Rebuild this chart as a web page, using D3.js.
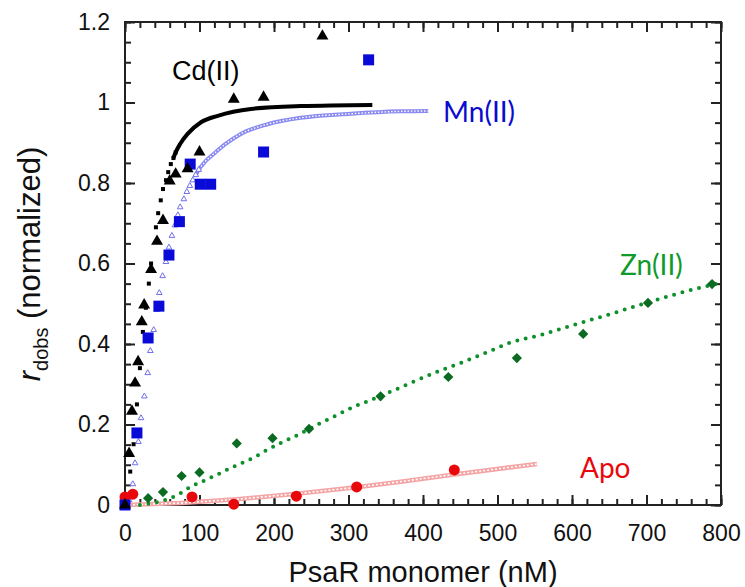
<!DOCTYPE html>
<html>
<head>
<meta charset="utf-8">
<script src="https://cdn.jsdelivr.net/npm/d3@7"></script>
<style>
  body { margin: 0; background: #fff; }
  text { font-family: "Liberation Sans", Arial, sans-serif; }
  .axis path { display: none; }
  .axis line { stroke: #222; stroke-width: 2; }
  .axis text { font-size: 23px; fill: #111; }
</style>
</head>
<body>
<script>
var cdX = [0, 5.5, 9.3, 13.5, 17.6, 22.5, 25.7, 35, 43, 51, 60, 68, 84, 100, 146, 186, 265];
var cdY = [0, 0.128, 0.233, 0.303, 0.356, 0.455, 0.497, 0.585, 0.655, 0.707, 0.805, 0.822, 0.835, 0.877, 1.008, 1.013, 1.165];

var mnX = [0, 16, 31, 45.5, 59, 73, 87.5, 101, 115, 186, 327];
var mnY = [0, 0.179, 0.415, 0.494, 0.621, 0.704, 0.847, 0.797, 0.797, 0.877, 1.106];

var znX = [0, 31, 51, 76, 100, 150, 198, 247, 343, 434, 526, 615, 702, 788];
var znY = [0, 0.017, 0.032, 0.072, 0.081, 0.153, 0.166, 0.189, 0.27, 0.318, 0.365, 0.425, 0.502, 0.549];

var apoX = [0, 10.5, 90, 146, 230, 311, 442];
var apoY = [0.02, 0.027, 0.02, 0.002, 0.022, 0.045, 0.087];

// fitted curves
var cdFitX = [0, 4, 7, 11.5, 16, 20, 24, 28, 32, 35, 41.5, 44.5, 48, 51, 55, 58, 61.5, 65, 68, 74, 84, 102, 124.5, 169, 236, 332];
var cdFitY = [0, 0.025, 0.083, 0.151, 0.25, 0.34, 0.43, 0.49, 0.55, 0.6, 0.69, 0.725, 0.757, 0.785, 0.807, 0.827, 0.847, 0.862, 0.876, 0.897, 0.922, 0.951, 0.967, 0.984, 0.991, 0.994];

var mnFitX = [5.5, 10.5, 13.5, 18, 21.5, 26, 30.5, 34, 38.5, 42.5, 46, 50.5, 55, 59, 63, 67, 71, 74, 79, 83, 87, 91, 95, 99, 104, 108, 115, 122, 135, 155.5, 191.5, 236, 303, 370, 407];
var mnFitY = [0.012, 0.052, 0.104, 0.157, 0.216, 0.27, 0.328, 0.383, 0.435, 0.485, 0.527, 0.569, 0.604, 0.64, 0.669, 0.695, 0.72, 0.74, 0.76, 0.778, 0.793, 0.807, 0.82, 0.833, 0.845, 0.854, 0.866, 0.877, 0.897, 0.922, 0.946, 0.962, 0.972, 0.978, 0.979];

var znFitX = [20, 32, 46, 61, 75, 88, 102, 122, 142, 154, 175, 186, 209, 232, 263, 285, 307, 330, 361, 383, 426, 449, 493, 515, 557, 602, 647, 691, 736, 781, 800];
var znFitY = [0, 0.003, 0.008, 0.017, 0.03, 0.045, 0.057, 0.074, 0.092, 0.102, 0.12, 0.132, 0.154, 0.174, 0.204, 0.224, 0.244, 0.261, 0.285, 0.303, 0.336, 0.352, 0.385, 0.402, 0.422, 0.447, 0.472, 0.497, 0.522, 0.544, 0.552];

var apoFitX = [0, 75, 150, 230, 311, 370, 442, 553];
var apoFitY = [0, 0.005, 0.014, 0.028, 0.044, 0.058, 0.076, 0.102];

var xTicks = [0, 100, 200, 300, 400, 500, 600, 700, 800];
var yTicks = [0, 0.2, 0.4, 0.6, 0.8, 1, 1.2];

var width = 745, height = 587;
var margin = {top: 22, right: 24, bottom: 82, left: 125};
var w = width - margin.left - margin.right,
    h = height - margin.top - margin.bottom;

var svg = d3.select("body").append("svg")
    .attr("width", width)
    .attr("height", height);

var g = svg.append("g")
    .attr("transform", "translate(" + margin.left + "," + margin.top + ")");

var x = d3.scaleLinear().domain([0, 800]).range([0, w]);
var y = d3.scaleLinear().domain([0, 1.2]).range([h, 0]);

function pts(xa, ya){
    return xa.map(function(d, i){ return [d, ya[i]]; });
}

//minor ticks on all four sides
var xMinor = d3.range(0, 801, 20), yMinor = d3.range(0, 1.2001, 0.05);
g.append("g").attr("class", "axis").attr("transform", "translate(0," + h + ")")
    .call(d3.axisBottom(x).tickValues(xMinor).tickSize(-6).tickSizeOuter(0).tickFormat(""));
g.append("g").attr("class", "axis")
    .call(d3.axisTop(x).tickValues(xMinor).tickSize(-6).tickSizeOuter(0).tickFormat(""));
g.append("g").attr("class", "axis")
    .call(d3.axisLeft(y).tickValues(yMinor).tickSize(-6).tickSizeOuter(0).tickFormat(""));
g.append("g").attr("class", "axis").attr("transform", "translate(" + w + ",0)")
    .call(d3.axisRight(y).tickValues(yMinor).tickSize(-6).tickSizeOuter(0).tickFormat(""));

//major ticks + labels
g.append("g").attr("class", "axis").attr("transform", "translate(0," + h + ")")
    .call(d3.axisBottom(x).tickValues(xTicks).tickSize(-10).tickSizeOuter(0).tickPadding(20).tickFormat(d3.format("d")));
g.append("g").attr("class", "axis")
    .call(d3.axisTop(x).tickValues(xTicks).tickSize(-10).tickSizeOuter(0).tickFormat(""));
g.append("g").attr("class", "axis")
    .call(d3.axisLeft(y).tickValues(yTicks).tickSize(-10).tickSizeOuter(0).tickPadding(15).tickFormat(function(d){ return d3.format("")(+d.toFixed(1)); }));
g.append("g").attr("class", "axis").attr("transform", "translate(" + w + ",0)")
    .call(d3.axisRight(y).tickValues(yTicks).tickSize(-10).tickSizeOuter(0).tickFormat(""));

//frame
g.append("rect")
    .attr("width", w).attr("height", h)
    .attr("fill", "none").attr("stroke", "#222").attr("stroke-width", 2);

var line = d3.line().x(function(d){ return x(d[0]); }).y(function(d){ return y(d[1]); });

// Apo fit: chain of small pink open circles
var apoFit = pts(apoFitX, apoFitY);
g.append("path").datum(apoFit).attr("d", line)
    .attr("fill", "none").attr("stroke", "#f4a4a4").attr("stroke-width", 4.5);
g.append("path").datum(apoFit).attr("d", line)
    .attr("fill", "none").attr("stroke", "#fff").attr("stroke-width", 1.6)
    .attr("stroke-dasharray", "2,2");

// Zn fit: green dots
g.append("path").datum(pts(znFitX, znFitY)).attr("d", line.curve(d3.curveMonotoneX))
    .attr("fill", "none").attr("stroke", "#0d8f2a").attr("stroke-width", 4)
    .attr("stroke-linecap", "round").attr("stroke-dasharray", "0,8.6");
line.curve(d3.curveLinear);

// Mn fit: light blue open triangles, dense part drawn as a line
var mnFit = pts(mnFitX, mnFitY);
var mnDense = mnFit.filter(function(d){ return d[0] >= 95; });
g.append("path").datum(mnDense)
    .attr("d", line.curve(d3.curveMonotoneX))
    .attr("fill", "none").attr("stroke", "#8a8af0").attr("stroke-width", 4);
g.append("path").datum(mnDense)
    .attr("d", line)
    .attr("fill", "none").attr("stroke", "#fff").attr("stroke-width", 1.4)
    .attr("stroke-dasharray", "1.5,1.8");
line.curve(d3.curveLinear);
g.selectAll(".mnfit").data(mnFit.filter(function(d){ return d[0] < 100; })).enter()
    .append("path").attr("class", "mnfit")
    .attr("transform", function(d){ return "translate(" + x(d[0]) + "," + y(d[1]) + ")"; })
    .attr("d", d3.symbol(d3.symbolTriangle, 14))
    .attr("fill", "#fff").attr("stroke", "#6f6ff0").attr("stroke-width", 1);

// Cd fit: small black squares, merging into a thick line
var cdFit = pts(cdFitX, cdFitY);
g.append("path").datum(cdFit.filter(function(d){ return d[0] >= 65; }))
    .attr("d", line.curve(d3.curveMonotoneX))
    .attr("fill", "none").attr("stroke", "#000").attr("stroke-width", 4);
line.curve(d3.curveLinear);
g.selectAll(".cdfit").data(cdFit.filter(function(d){ return d[0] < 70; })).enter()
    .append("rect").attr("class", "cdfit")
    .attr("x", function(d){ return x(d[0]) - 2; })
    .attr("y", function(d){ return y(d[1]) - 2; })
    .attr("width", 4).attr("height", 4)
    .attr("fill", "#000");

// data markers
g.selectAll(".apo").data(pts(apoX, apoY)).enter()
    .append("circle").attr("class", "apo")
    .attr("cx", function(d){ return x(d[0]); })
    .attr("cy", function(d){ return y(d[1]); })
    .attr("r", 5.5).attr("fill", "#e8080c");

g.selectAll(".zn").data(pts(znX, znY)).enter()
    .append("path").attr("class", "zn")
    .attr("transform", function(d){ return "translate(" + x(d[0]) + "," + y(d[1]) + ") rotate(45)"; })
    .attr("d", d3.symbol(d3.symbolSquare, 52))
    .attr("fill", "#0b6b22");

g.selectAll(".mn").data(pts(mnX, mnY)).enter()
    .append("rect").attr("class", "mn")
    .attr("x", function(d){ return x(d[0]) - 5.5; })
    .attr("y", function(d){ return y(d[1]) - 5.5; })
    .attr("width", 11).attr("height", 11)
    .attr("fill", "#0a0ad8");

g.selectAll(".cd").data(pts(cdX, cdY)).enter()
    .append("path").attr("class", "cd")
    .attr("transform", function(d){ return "translate(" + x(d[0]) + "," + y(d[1]) + ")"; })
    .attr("d", d3.symbol(d3.symbolTriangle, 62))
    .attr("fill", "#000");

// series labels
svg.append("text").attr("x", 172).attr("y", 80)
    .style("font-size", "27px").attr("fill", "#000").text("Cd(II)");
svg.append("text").attr("x", 443).attr("y", 122)
    .style("font-family", "Lato, sans-serif").style("font-size", "28px").attr("fill", "#0a0ad0").text("Mn(II)");
svg.append("text").attr("x", 620).attr("y", 275)
    .style("font-family", "Lato, sans-serif").style("font-size", "28px").attr("fill", "#109a2a").text("Zn(II)");
svg.append("text").attr("x", 580).attr("y", 478)
    .style("font-family", "Lato, sans-serif").style("font-size", "28px").attr("fill", "#e8080c").text("Apo");

// axis titles
svg.append("text")
    .attr("x", margin.left + w / 2).attr("y", 582)
    .attr("text-anchor", "middle")
    .style("font-size", "29px").attr("fill", "#111")
    .text("PsaR monomer (nM)");

var yTitle = svg.append("text")
    .attr("transform", "translate(40,264) rotate(-90)")
    .attr("text-anchor", "middle")
    .style("font-size", "31px").attr("fill", "#111");
yTitle.append("tspan").style("font-style", "italic").text("r");
yTitle.append("tspan").style("font-size", "20px").attr("dy", 8).text("dobs");
yTitle.append("tspan").attr("dy", -8).text(" (normalized)");
</script>
</body>
</html>
